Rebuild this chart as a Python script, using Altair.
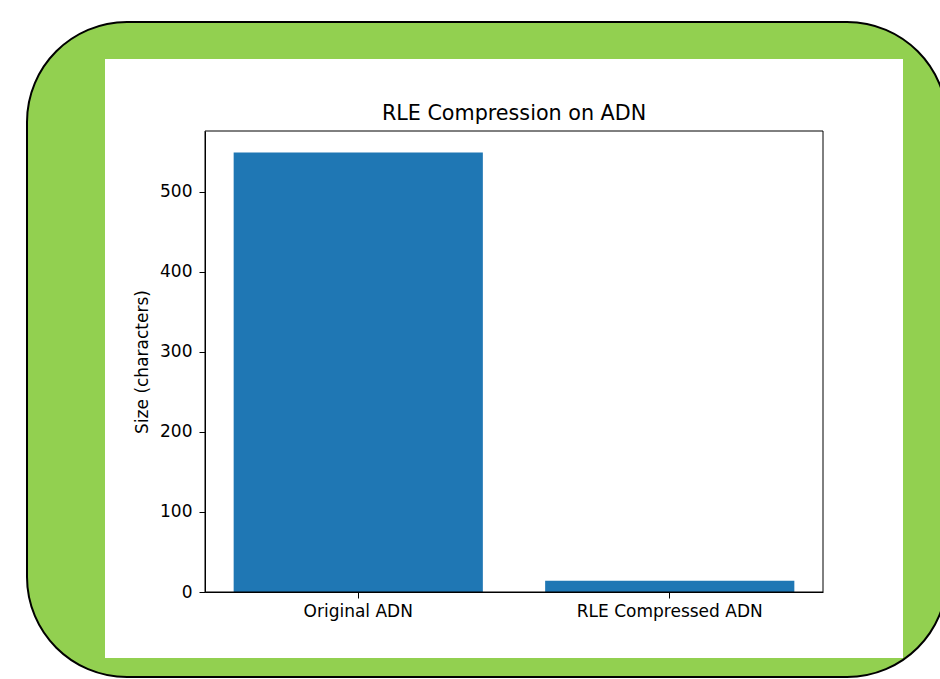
import altair as alt
import pandas as pd

categories = ["Original ADN", "RLE Compressed ADN"]
sizes = [549, 14]
y_ticks = [0, 100, 200, 300, 400, 500]
title_text = ["RLE Compression on ADN"]

df = pd.DataFrame({"label": categories, "size": sizes})
one = pd.DataFrame({"k": [0]})
title_df = pd.DataFrame({"t": title_text})

W, H = 618, 461
FONT = "DejaVu Sans"

frame = alt.Chart(one).mark_rect(
    fill="#92d050", stroke="black", strokeWidth=2, cornerRadius=100
).encode(x=alt.value(-178), x2=alt.value(742), y=alt.value(-109), y2=alt.value(546))

panel = alt.Chart(one).mark_rect(fill="white").encode(
    x=alt.value(-100), x2=alt.value(698), y=alt.value(-72), y2=alt.value(527)
)

bars = alt.Chart(df).mark_bar(color="#1f77b4").encode(
    x=alt.X(
        "label:N",
        sort=categories,
        scale=alt.Scale(paddingInner=0.2, paddingOuter=0.092),
        axis=alt.Axis(title=None, labelAngle=0, labelPadding=5, labelLimit=400, zindex=5),
    ),
    y=alt.Y(
        "size:Q",
        scale=alt.Scale(domain=[0, 576], nice=False, zero=True),
        axis=alt.Axis(values=y_ticks, title="Size (characters)", grid=False,
                      titlePadding=8, labelPadding=7, zindex=5),
    ),
)

spine = alt.Chart(one).mark_rect(filled=False, stroke="black", strokeWidth=1).encode(
    x=alt.value(0), x2=alt.value(W), y=alt.value(0), y2=alt.value(H)
)

title = alt.Chart(title_df).mark_text(
    font=FONT, fontSize=20.7, color="black", align="center", baseline="alphabetic"
).encode(text="t:N", x=alt.value(W / 2), y=alt.value(-11))

chart = (
    alt.layer(frame, panel, bars, spine, title)
    .properties(
        width=W,
        height=H,
        autosize=alt.AutoSizeParams(type="none"),
        padding={"left": 205, "top": 131, "right": 117, "bottom": 87},
        background="white",
    )
    .configure_view(stroke="transparent")
    .configure_axis(
        labelFont=FONT,
        titleFont=FONT,
        labelFontSize=17,
        titleFontSize=17,
        titleFontWeight="normal",
        labelColor="black",
        titleColor="black",
        tickColor="black",
        domainColor="black",
        tickSize=6,
    )
)

chart.save("out.html", embed_options={"renderer": "svg", "actions": False})
